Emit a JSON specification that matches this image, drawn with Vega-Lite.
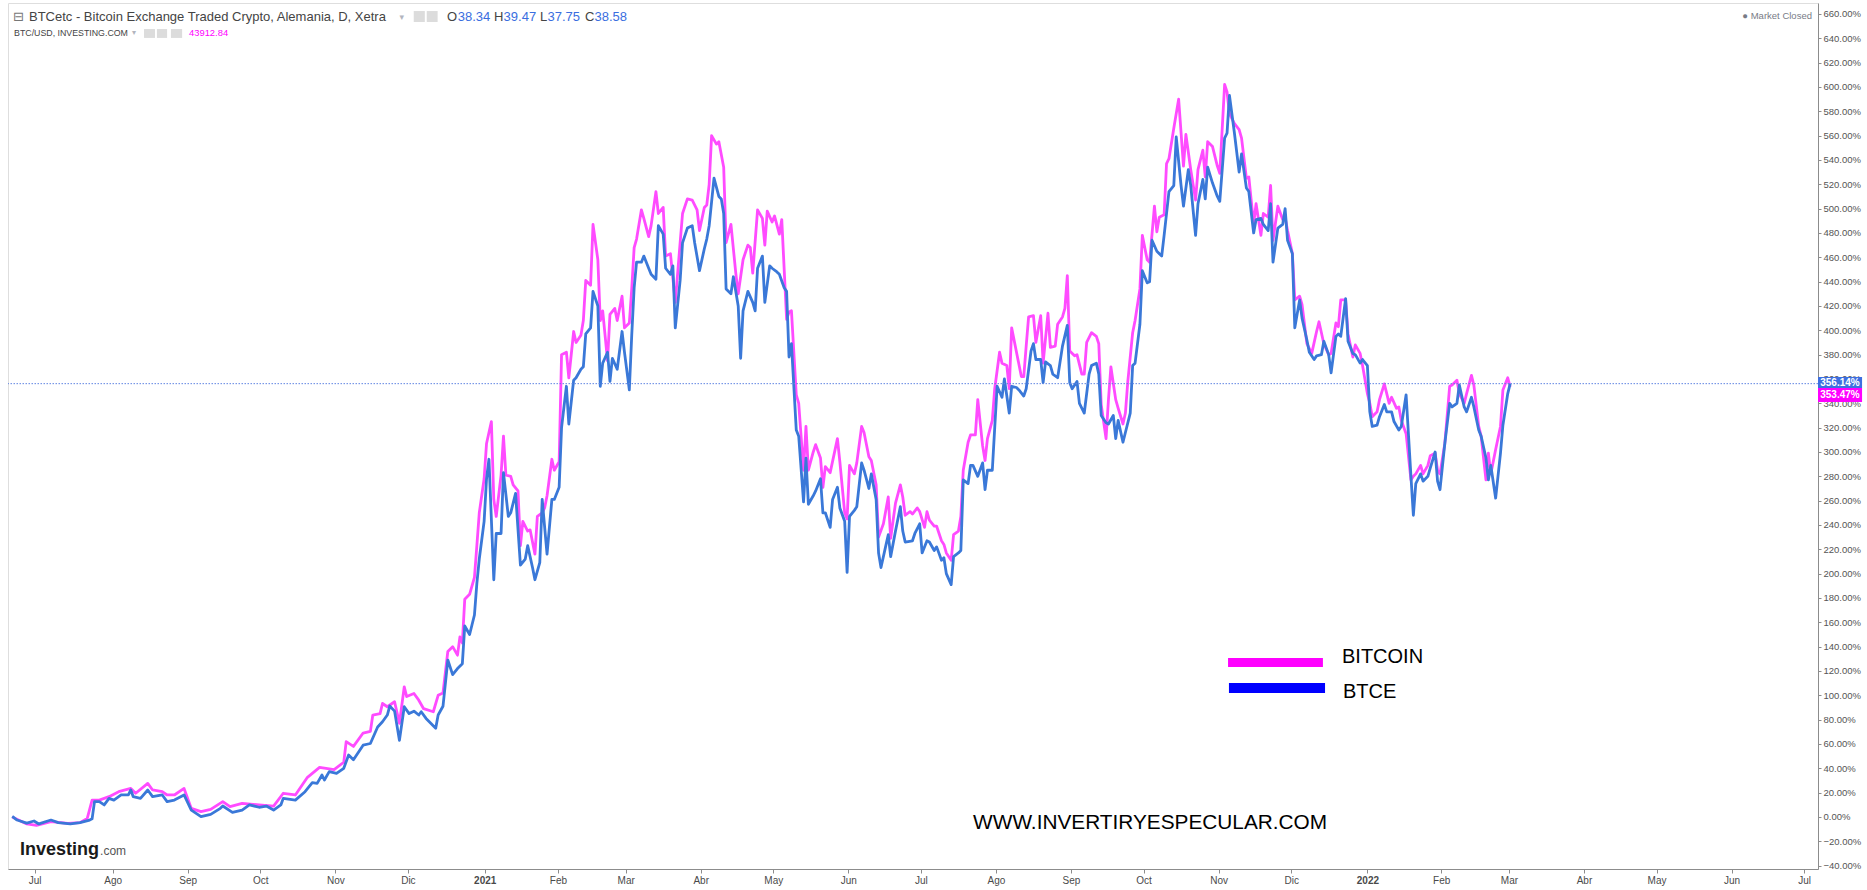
{
  "$schema": "https://vega.github.io/schema/vega-lite/v6.json",
  "width": 1810,
  "height": 866,
  "autosize": {"type": "none"},
  "padding": {"left": 8, "top": 3, "right": 49, "bottom": 21},
  "background": "white",
  "config": {"view": {"stroke": "#dedede"}, "font": "Liberation Sans", "axis": {"labelOverlap": false, "labelFlush": false, "labelBound": false}},
  "datasets": {
    "bitcoin": [
      {"date":"2020-06-22","pct":0},{"date":"2020-06-28","pct":-5.7},{"date":"2020-07-02","pct":-6.8},{"date":"2020-07-08","pct":-3.8},{"date":"2020-07-15","pct":-5.2},{"date":"2020-07-20","pct":-4.6},{"date":"2020-07-23","pct":-1.1},{"date":"2020-07-25","pct":13.9},{"date":"2020-07-28","pct":13.9},{"date":"2020-08-01","pct":16.7},{"date":"2020-08-05","pct":20.8},{"date":"2020-08-10","pct":23.5},{"date":"2020-08-12","pct":19.5},{"date":"2020-08-17","pct":27.6},{"date":"2020-08-19","pct":22.2},{"date":"2020-08-23","pct":20.8},{"date":"2020-08-25","pct":18.1},{"date":"2020-08-28","pct":18.1},{"date":"2020-09-01","pct":23.5},{"date":"2020-09-04","pct":7.1},{"date":"2020-09-08","pct":4.4},{"date":"2020-09-12","pct":6.3},{"date":"2020-09-17","pct":12.6},{"date":"2020-09-20","pct":8.5},{"date":"2020-09-25","pct":11.2},{"date":"2020-10-02","pct":9.9},{"date":"2020-10-08","pct":9.0},{"date":"2020-10-12","pct":19.5},{"date":"2020-10-17","pct":18.1},{"date":"2020-10-22","pct":32.6},{"date":"2020-10-27","pct":40.8},{"date":"2020-11-02","pct":39},{"date":"2020-11-06","pct":45},{"date":"2020-11-07","pct":61.9},{"date":"2020-11-10","pct":58},{"date":"2020-11-14","pct":69},{"date":"2020-11-17","pct":70.4},{"date":"2020-11-18","pct":83.8},{"date":"2020-11-21","pct":85},{"date":"2020-11-22","pct":93.3},{"date":"2020-11-24","pct":90.6},{"date":"2020-11-27","pct":94.7},{"date":"2020-11-29","pct":77},{"date":"2020-12-01","pct":107},{"date":"2020-12-02","pct":99},{"date":"2020-12-05","pct":101.5},{"date":"2020-12-07","pct":96},{"date":"2020-12-09","pct":89},{"date":"2020-12-13","pct":86.5},{"date":"2020-12-15","pct":100},{"date":"2020-12-17","pct":102},{"date":"2020-12-19","pct":136},{"date":"2020-12-21","pct":140},{"date":"2020-12-23","pct":133},{"date":"2020-12-24","pct":148},{"date":"2020-12-25","pct":143},{"date":"2020-12-26","pct":179},{"date":"2020-12-28","pct":183},{"date":"2020-12-30","pct":197},{"date":"2020-12-31","pct":223},
      {"date":"2021-01-01","pct":250},{"date":"2021-01-03","pct":278},{"date":"2021-01-04","pct":307},{"date":"2021-01-06","pct":325},{"date":"2021-01-07","pct":261},{"date":"2021-01-08","pct":247},{"date":"2021-01-10","pct":281},{"date":"2021-01-11","pct":313},{"date":"2021-01-12","pct":281},{"date":"2021-01-14","pct":280},{"date":"2021-01-15","pct":273},{"date":"2021-01-17","pct":268},{"date":"2021-01-18","pct":223},{"date":"2021-01-19","pct":243},{"date":"2021-01-21","pct":235},{"date":"2021-01-22","pct":236},{"date":"2021-01-24","pct":216},{"date":"2021-01-25","pct":247},{"date":"2021-01-27","pct":250},{"date":"2021-01-28","pct":254},{"date":"2021-01-29","pct":264},{"date":"2021-01-31","pct":294},{"date":"2021-02-01","pct":285},{"date":"2021-02-03","pct":292},{"date":"2021-02-04","pct":380},{"date":"2021-02-06","pct":382},{"date":"2021-02-07","pct":361},{"date":"2021-02-09","pct":399},{"date":"2021-02-10","pct":390},{"date":"2021-02-12","pct":396},{"date":"2021-02-13","pct":408},{"date":"2021-02-14","pct":441},{"date":"2021-02-16","pct":437},{"date":"2021-02-17","pct":487},{"date":"2021-02-19","pct":458},{"date":"2021-02-20","pct":408},{"date":"2021-02-21","pct":416},{"date":"2021-02-23","pct":375},{"date":"2021-02-24","pct":413},{"date":"2021-02-26","pct":418},{"date":"2021-02-27","pct":408},{"date":"2021-03-01","pct":428},{"date":"2021-03-02","pct":402},{"date":"2021-03-04","pct":406},{"date":"2021-03-05","pct":434},{"date":"2021-03-06","pct":468},{"date":"2021-03-07","pct":475},{"date":"2021-03-09","pct":499},{"date":"2021-03-10","pct":492},{"date":"2021-03-12","pct":477},{"date":"2021-03-13","pct":486},{"date":"2021-03-15","pct":514},{"date":"2021-03-16","pct":496},{"date":"2021-03-18","pct":501},{"date":"2021-03-19","pct":461},{"date":"2021-03-21","pct":463},{"date":"2021-03-23","pct":423},{"date":"2021-03-25","pct":472},{"date":"2021-03-26","pct":496},{"date":"2021-03-28","pct":508},{"date":"2021-03-30","pct":507},{"date":"2021-04-01","pct":499},{"date":"2021-04-02","pct":482},{"date":"2021-04-04","pct":501},{"date":"2021-04-05","pct":503},{"date":"2021-04-06","pct":520},{"date":"2021-04-07","pct":560},{"date":"2021-04-09","pct":553},{"date":"2021-04-10","pct":555},{"date":"2021-04-12","pct":534},{"date":"2021-04-13","pct":472},{"date":"2021-04-15","pct":487},{"date":"2021-04-17","pct":447},{"date":"2021-04-18","pct":430},{"date":"2021-04-20","pct":458},{"date":"2021-04-22","pct":470},{"date":"2021-04-23","pct":468},{"date":"2021-04-24","pct":447},{"date":"2021-04-26","pct":499},{"date":"2021-04-28","pct":492},{"date":"2021-04-29","pct":470},{"date":"2021-04-30","pct":498},{"date":"2021-05-02","pct":489},{"date":"2021-05-03","pct":494},{"date":"2021-05-05","pct":479},{"date":"2021-05-06","pct":491},{"date":"2021-05-08","pct":409},{"date":"2021-05-09","pct":415},{"date":"2021-05-10","pct":416},{"date":"2021-05-12","pct":347},{"date":"2021-05-13","pct":340},{"date":"2021-05-15","pct":285},{"date":"2021-05-16","pct":321},{"date":"2021-05-17","pct":285},{"date":"2021-05-19","pct":300},{"date":"2021-05-20","pct":306},{"date":"2021-05-22","pct":295},{"date":"2021-05-23","pct":271},{"date":"2021-05-24","pct":288},{"date":"2021-05-26","pct":283},{"date":"2021-05-29","pct":311},{"date":"2021-05-30","pct":292},{"date":"2021-06-01","pct":250},{"date":"2021-06-02","pct":245},{"date":"2021-06-03","pct":289},{"date":"2021-06-05","pct":282},{"date":"2021-06-06","pct":291},{"date":"2021-06-08","pct":321},{"date":"2021-06-09","pct":316},{"date":"2021-06-11","pct":296},{"date":"2021-06-12","pct":293},{"date":"2021-06-14","pct":273},{"date":"2021-06-15","pct":230},{"date":"2021-06-17","pct":241},{"date":"2021-06-19","pct":263},{"date":"2021-06-20","pct":229},{"date":"2021-06-22","pct":258},{"date":"2021-06-24","pct":273},{"date":"2021-06-25","pct":263},{"date":"2021-06-26","pct":248},{"date":"2021-06-28","pct":251},{"date":"2021-06-29","pct":249},{"date":"2021-07-01","pct":254},{"date":"2021-07-02","pct":251},{"date":"2021-07-04","pct":238},{"date":"2021-07-05","pct":251},{"date":"2021-07-06","pct":244},{"date":"2021-07-08","pct":239},{"date":"2021-07-09","pct":239},{"date":"2021-07-11","pct":227},{"date":"2021-07-12","pct":224},{"date":"2021-07-13","pct":217},{"date":"2021-07-15","pct":211},{"date":"2021-07-16","pct":232},{"date":"2021-07-18","pct":235},{"date":"2021-07-19","pct":247},{"date":"2021-07-20","pct":285},{"date":"2021-07-22","pct":308},{"date":"2021-07-23","pct":314},{"date":"2021-07-25","pct":314},{"date":"2021-07-26","pct":343},{"date":"2021-07-28","pct":305},{"date":"2021-07-29","pct":293},{"date":"2021-07-30","pct":311},{"date":"2021-08-01","pct":326},{"date":"2021-08-02","pct":352},{"date":"2021-08-04","pct":382},{"date":"2021-08-05","pct":373},{"date":"2021-08-07","pct":371},{"date":"2021-08-08","pct":352},{"date":"2021-08-09","pct":402},{"date":"2021-08-11","pct":382},{"date":"2021-08-13","pct":362},{"date":"2021-08-14","pct":362},{"date":"2021-08-15","pct":387},{"date":"2021-08-16","pct":411},{"date":"2021-08-18","pct":412},{"date":"2021-08-19","pct":390},{"date":"2021-08-21","pct":412},{"date":"2021-08-22","pct":373},{"date":"2021-08-24","pct":414},{"date":"2021-08-25","pct":386},{"date":"2021-08-27","pct":387},{"date":"2021-08-28","pct":405},{"date":"2021-08-30","pct":411},{"date":"2021-08-31","pct":418},{"date":"2021-09-01","pct":445},{"date":"2021-09-02","pct":383},{"date":"2021-09-04","pct":379},{"date":"2021-09-05","pct":380},{"date":"2021-09-07","pct":364},{"date":"2021-09-08","pct":364},{"date":"2021-09-09","pct":390},{"date":"2021-09-11","pct":398},{"date":"2021-09-13","pct":395},{"date":"2021-09-14","pct":389},{"date":"2021-09-15","pct":339},{"date":"2021-09-17","pct":311},{"date":"2021-09-18","pct":343},{"date":"2021-09-19","pct":370},{"date":"2021-09-21","pct":343},{"date":"2021-09-22","pct":336},{"date":"2021-09-24","pct":323},{"date":"2021-09-25","pct":332},{"date":"2021-09-26","pct":358},{"date":"2021-09-28","pct":398},{"date":"2021-09-29","pct":408},{"date":"2021-10-01","pct":434},{"date":"2021-10-02","pct":478},{"date":"2021-10-04","pct":458},{"date":"2021-10-05","pct":456},{"date":"2021-10-07","pct":502},{"date":"2021-10-08","pct":481},{"date":"2021-10-09","pct":493},{"date":"2021-10-11","pct":495},{"date":"2021-10-12","pct":537},{"date":"2021-10-13","pct":541},{"date":"2021-10-15","pct":566},{"date":"2021-10-17","pct":590},
      {"date":"2021-10-19","pct":535},{"date":"2021-10-20","pct":561},{"date":"2021-10-22","pct":532},{"date":"2021-10-24","pct":507},{"date":"2021-10-25","pct":532},{"date":"2021-10-27","pct":548},{"date":"2021-10-28","pct":526},{"date":"2021-10-29","pct":555},{"date":"2021-10-31","pct":551},{"date":"2021-11-02","pct":535},{"date":"2021-11-03","pct":529},{"date":"2021-11-05","pct":602},{"date":"2021-11-06","pct":596},{"date":"2021-11-07","pct":578},{"date":"2021-11-09","pct":570},{"date":"2021-11-11","pct":565},{"date":"2021-11-12","pct":558},{"date":"2021-11-14","pct":525},{"date":"2021-11-15","pct":526},{"date":"2021-11-17","pct":487},{"date":"2021-11-18","pct":504},{"date":"2021-11-20","pct":478},{"date":"2021-11-21","pct":496},{"date":"2021-11-23","pct":493},{"date":"2021-11-24","pct":519},{"date":"2021-11-25","pct":474},{"date":"2021-11-27","pct":502},{"date":"2021-11-29","pct":491},{"date":"2021-11-30","pct":493},{"date":"2021-12-01","pct":482},{"date":"2021-12-03","pct":463},{"date":"2021-12-04","pct":425},{"date":"2021-12-06","pct":428},{"date":"2021-12-07","pct":421},{"date":"2021-12-09","pct":389},{"date":"2021-12-11","pct":381},{"date":"2021-12-13","pct":399},{"date":"2021-12-14","pct":407},{"date":"2021-12-16","pct":389},{"date":"2021-12-18","pct":380},{"date":"2021-12-19","pct":381},{"date":"2021-12-21","pct":406},{"date":"2021-12-22","pct":403},{"date":"2021-12-23","pct":425},{"date":"2021-12-25","pct":425},{"date":"2021-12-26","pct":397},{"date":"2021-12-28","pct":378},{"date":"2021-12-29","pct":388},{"date":"2021-12-31","pct":381},{"date":"2022-01-01","pct":371},{"date":"2022-01-03","pct":348},{"date":"2022-01-04","pct":340},{"date":"2022-01-05","pct":329},{"date":"2022-01-07","pct":333},{"date":"2022-01-08","pct":343},{"date":"2022-01-10","pct":356},{"date":"2022-01-12","pct":340},{"date":"2022-01-13","pct":345},{"date":"2022-01-15","pct":336},{"date":"2022-01-16","pct":337},{"date":"2022-01-17","pct":326},{"date":"2022-01-19","pct":315},{"date":"2022-01-21","pct":277},{"date":"2022-01-22","pct":280},{"date":"2022-01-23","pct":282},{"date":"2022-01-25","pct":289},{"date":"2022-01-26","pct":282},{"date":"2022-01-28","pct":289},{"date":"2022-01-29","pct":297},{"date":"2022-01-31","pct":299},{"date":"2022-02-01","pct":285},{"date":"2022-02-02","pct":282},{"date":"2022-02-04","pct":307},{"date":"2022-02-06","pct":354},{"date":"2022-02-07","pct":355},{"date":"2022-02-09","pct":359},{"date":"2022-02-10","pct":348},{"date":"2022-02-12","pct":340},{"date":"2022-02-13","pct":348},{"date":"2022-02-15","pct":363},{"date":"2022-02-16","pct":355},{"date":"2022-02-18","pct":321},{"date":"2022-02-19","pct":313},{"date":"2022-02-21","pct":277},{"date":"2022-02-22","pct":299},{"date":"2022-02-23","pct":282},{"date":"2022-02-25","pct":302},{"date":"2022-02-27","pct":321},{"date":"2022-02-28","pct":351},{"date":"2022-03-02","pct":361},{"date":"2022-03-03","pct":353.47}
    ],
    "btce": [
      {"date":"2020-06-22","pct":0.5},{"date":"2020-06-24","pct":-2.5},{"date":"2020-06-28","pct":-5},{"date":"2020-07-01","pct":-3.3},{"date":"2020-07-03","pct":-5.7},{"date":"2020-07-08","pct":-2.5},{"date":"2020-07-11","pct":-4.6},{"date":"2020-07-16","pct":-5.7},{"date":"2020-07-20","pct":-4.6},{"date":"2020-07-24","pct":-2.5},{"date":"2020-07-25","pct":-1.5},{"date":"2020-07-26","pct":12.6},{"date":"2020-07-28","pct":12.6},{"date":"2020-07-30","pct":9.9},{"date":"2020-08-01","pct":15.3},{"date":"2020-08-03","pct":13.9},{"date":"2020-08-06","pct":18.1},{"date":"2020-08-09","pct":18.1},{"date":"2020-08-10","pct":22.2},{"date":"2020-08-11","pct":16.7},{"date":"2020-08-14","pct":15.3},{"date":"2020-08-17","pct":22.2},{"date":"2020-08-19","pct":16.7},{"date":"2020-08-23","pct":18.1},{"date":"2020-08-25","pct":12.6},{"date":"2020-08-28","pct":13.9},{"date":"2020-09-01","pct":18.1},{"date":"2020-09-04","pct":5.7},{"date":"2020-09-08","pct":0.3},{"date":"2020-09-12","pct":2.2},{"date":"2020-09-16","pct":7.1},{"date":"2020-09-17","pct":9.0},{"date":"2020-09-21","pct":3.8},{"date":"2020-09-25","pct":5.7},{"date":"2020-09-28","pct":9.9},{"date":"2020-10-02","pct":8},{"date":"2020-10-05","pct":9},{"date":"2020-10-08","pct":5.7},{"date":"2020-10-11","pct":9.9},{"date":"2020-10-12","pct":15.3},{"date":"2020-10-17","pct":13.9},{"date":"2020-10-21","pct":20.8},{"date":"2020-10-24","pct":28.2},{"date":"2020-10-26","pct":27.6},{"date":"2020-10-28","pct":34.5},{"date":"2020-10-29","pct":30.4},{"date":"2020-10-31","pct":37.3},{"date":"2020-11-03","pct":35.9},{"date":"2020-11-06","pct":40},{"date":"2020-11-08","pct":51},{"date":"2020-11-10","pct":47},{"date":"2020-11-14","pct":59},{"date":"2020-11-17","pct":60.4},{"date":"2020-11-20","pct":74},{"date":"2020-11-22","pct":78.3},{"date":"2020-11-24","pct":83.8},{"date":"2020-11-25","pct":91.2},{"date":"2020-11-27","pct":87},{"date":"2020-11-29","pct":63},{"date":"2020-12-01","pct":90.6},{"date":"2020-12-03","pct":85},{"date":"2020-12-05","pct":87},{"date":"2020-12-07","pct":83.8},{"date":"2020-12-08","pct":86.5},{"date":"2020-12-10","pct":81},{"date":"2020-12-14","pct":73},{"date":"2020-12-15","pct":83.8},{"date":"2020-12-17","pct":91},{"date":"2020-12-19","pct":129},{"date":"2020-12-21","pct":117},{"date":"2020-12-23","pct":122},{"date":"2020-12-25","pct":126},{"date":"2020-12-26","pct":157},{"date":"2020-12-28","pct":150},{"date":"2020-12-30","pct":166},{"date":"2020-12-31","pct":192},
      {"date":"2021-01-01","pct":212},{"date":"2021-01-03","pct":243},{"date":"2021-01-04","pct":278},{"date":"2021-01-05","pct":294},{"date":"2021-01-07","pct":195},{"date":"2021-01-08","pct":233},{"date":"2021-01-10","pct":233},{"date":"2021-01-11","pct":283},{"date":"2021-01-13","pct":247},{"date":"2021-01-14","pct":250},{"date":"2021-01-16","pct":266},{"date":"2021-01-18","pct":207},{"date":"2021-01-20","pct":212},{"date":"2021-01-21","pct":223},{"date":"2021-01-23","pct":205},{"date":"2021-01-24","pct":195},{"date":"2021-01-26","pct":209},{"date":"2021-01-27","pct":261},{"date":"2021-01-29","pct":216},{"date":"2021-01-31","pct":261},{"date":"2021-02-01","pct":261},{"date":"2021-02-03","pct":271},{"date":"2021-02-04","pct":320},{"date":"2021-02-06","pct":354},{"date":"2021-02-07","pct":323},{"date":"2021-02-09","pct":359},{"date":"2021-02-10","pct":361},{"date":"2021-02-12","pct":368},{"date":"2021-02-13","pct":370},{"date":"2021-02-14","pct":397},{"date":"2021-02-16","pct":402},{"date":"2021-02-17","pct":432},{"date":"2021-02-19","pct":420},{"date":"2021-02-20","pct":354},{"date":"2021-02-21","pct":373},{"date":"2021-02-23","pct":382},{"date":"2021-02-24","pct":358},{"date":"2021-02-25","pct":377},{"date":"2021-02-27","pct":368},{"date":"2021-03-01","pct":399},{"date":"2021-03-02","pct":382},{"date":"2021-03-04","pct":351},{"date":"2021-03-05","pct":396},{"date":"2021-03-06","pct":435},{"date":"2021-03-07","pct":456},{"date":"2021-03-09","pct":456},{"date":"2021-03-10","pct":461},{"date":"2021-03-12","pct":451},{"date":"2021-03-13","pct":446},{"date":"2021-03-15","pct":442},{"date":"2021-03-16","pct":486},{"date":"2021-03-18","pct":479},{"date":"2021-03-19","pct":451},{"date":"2021-03-21","pct":446},{"date":"2021-03-22","pct":453},{"date":"2021-03-23","pct":402},{"date":"2021-03-25","pct":441},{"date":"2021-03-26","pct":472},{"date":"2021-03-28","pct":484},{"date":"2021-03-30","pct":486},{"date":"2021-03-31","pct":472},{"date":"2021-04-02","pct":449},{"date":"2021-04-04","pct":467},{"date":"2021-04-05","pct":475},{"date":"2021-04-06","pct":486},{"date":"2021-04-08","pct":525},{"date":"2021-04-10","pct":510},{"date":"2021-04-11","pct":508},{"date":"2021-04-12","pct":496},{"date":"2021-04-13","pct":434},{"date":"2021-04-15","pct":430},{"date":"2021-04-16","pct":444},{"date":"2021-04-18","pct":420},{"date":"2021-04-19","pct":377},{"date":"2021-04-20","pct":416},{"date":"2021-04-22","pct":432},{"date":"2021-04-24","pct":423},{"date":"2021-04-25","pct":416},{"date":"2021-04-26","pct":451},{"date":"2021-04-28","pct":461},{"date":"2021-04-29","pct":423},{"date":"2021-05-01","pct":453},{"date":"2021-05-02","pct":451},{"date":"2021-05-04","pct":448},{"date":"2021-05-05","pct":446},{"date":"2021-05-07","pct":435},{"date":"2021-05-08","pct":432},{"date":"2021-05-09","pct":378},{"date":"2021-05-10","pct":389},{"date":"2021-05-12","pct":318},{"date":"2021-05-13","pct":313},{"date":"2021-05-15","pct":259},{"date":"2021-05-16","pct":295},{"date":"2021-05-17","pct":257},{"date":"2021-05-19","pct":264},{"date":"2021-05-20","pct":268},{"date":"2021-05-22","pct":278},{"date":"2021-05-23","pct":250},{"date":"2021-05-24","pct":250},{"date":"2021-05-26","pct":238},{"date":"2021-05-27","pct":261},{"date":"2021-05-29","pct":271},{"date":"2021-05-30","pct":254},{"date":"2021-06-01","pct":243},{"date":"2021-06-02","pct":201},{"date":"2021-06-03","pct":247},{"date":"2021-06-05","pct":252},{"date":"2021-06-06","pct":255},{"date":"2021-06-08","pct":291},{"date":"2021-06-09","pct":285},{"date":"2021-06-11","pct":270},{"date":"2021-06-12","pct":282},{"date":"2021-06-14","pct":261},{"date":"2021-06-15","pct":217},{"date":"2021-06-16","pct":205},{"date":"2021-06-18","pct":223},{"date":"2021-06-19","pct":232},{"date":"2021-06-20","pct":214},{"date":"2021-06-22","pct":235},{"date":"2021-06-24","pct":255},{"date":"2021-06-25","pct":235},{"date":"2021-06-26","pct":226},{"date":"2021-06-29","pct":227},{"date":"2021-06-30","pct":233},{"date":"2021-07-02","pct":241},{"date":"2021-07-03","pct":217},{"date":"2021-07-05","pct":227},{"date":"2021-07-06","pct":226},{"date":"2021-07-08","pct":219},{"date":"2021-07-09","pct":222},{"date":"2021-07-11","pct":211},{"date":"2021-07-12","pct":213},{"date":"2021-07-13","pct":200},{"date":"2021-07-15","pct":191},{"date":"2021-07-16","pct":214},{"date":"2021-07-18","pct":217},{"date":"2021-07-19","pct":219},{"date":"2021-07-20","pct":277},{"date":"2021-07-22","pct":274},{"date":"2021-07-23","pct":289},{"date":"2021-07-24","pct":289},{"date":"2021-07-26","pct":280},{"date":"2021-07-28","pct":291},{"date":"2021-07-29","pct":269},{"date":"2021-07-30","pct":285},{"date":"2021-08-01","pct":285},{"date":"2021-08-02","pct":320},{"date":"2021-08-03","pct":354},{"date":"2021-08-05","pct":345},{"date":"2021-08-06","pct":360},{"date":"2021-08-08","pct":332},{"date":"2021-08-09","pct":354},{"date":"2021-08-11","pct":353},{"date":"2021-08-12","pct":351},{"date":"2021-08-14","pct":346},{"date":"2021-08-15","pct":352},{"date":"2021-08-17","pct":383},{"date":"2021-08-18","pct":389},{"date":"2021-08-19","pct":376},{"date":"2021-08-21","pct":376},{"date":"2021-08-22","pct":357},{"date":"2021-08-23","pct":374},{"date":"2021-08-25","pct":371},{"date":"2021-08-26","pct":364},{"date":"2021-08-28","pct":361},{"date":"2021-08-30","pct":387},{"date":"2021-09-01","pct":404},{"date":"2021-09-02","pct":357},{"date":"2021-09-03","pct":352},{"date":"2021-09-05","pct":358},{"date":"2021-09-06","pct":340},{"date":"2021-09-08","pct":332},{"date":"2021-09-10","pct":364},{"date":"2021-09-11","pct":371},{"date":"2021-09-13","pct":373},{"date":"2021-09-14","pct":364},{"date":"2021-09-15","pct":330},{"date":"2021-09-17","pct":324},{"date":"2021-09-18","pct":323},{"date":"2021-09-20","pct":330},{"date":"2021-09-21","pct":311},{"date":"2021-09-22","pct":326},{"date":"2021-09-24","pct":308},{"date":"2021-09-25","pct":316},{"date":"2021-09-27","pct":332},{"date":"2021-09-28","pct":371},{"date":"2021-09-29","pct":373},{"date":"2021-10-01","pct":405},{"date":"2021-10-02","pct":449},{"date":"2021-10-04","pct":439},{"date":"2021-10-05","pct":440},{"date":"2021-10-06","pct":474},{"date":"2021-10-08","pct":465},{"date":"2021-10-10","pct":461},{"date":"2021-10-11","pct":478},{"date":"2021-10-13","pct":514},{"date":"2021-10-15","pct":519},{"date":"2021-10-16","pct":559},{"date":"2021-10-18","pct":519},
      {"date":"2021-10-19","pct":502},{"date":"2021-10-21","pct":532},{"date":"2021-10-22","pct":519},{"date":"2021-10-24","pct":478},{"date":"2021-10-25","pct":504},{"date":"2021-10-27","pct":524},{"date":"2021-10-28","pct":508},{"date":"2021-10-29","pct":534},{"date":"2021-10-31","pct":521},{"date":"2021-11-02","pct":510},{"date":"2021-11-03","pct":506},{"date":"2021-11-05","pct":558},{"date":"2021-11-06","pct":562},{"date":"2021-11-07","pct":593},{"date":"2021-11-09","pct":563},{"date":"2021-11-11","pct":530},{"date":"2021-11-12","pct":545},{"date":"2021-11-14","pct":517},{"date":"2021-11-15","pct":514},{"date":"2021-11-17","pct":480},{"date":"2021-11-18","pct":491},{"date":"2021-11-20","pct":492},{"date":"2021-11-21","pct":487},{"date":"2021-11-23","pct":482},{"date":"2021-11-24","pct":504},{"date":"2021-11-25","pct":456},{"date":"2021-11-27","pct":484},{"date":"2021-11-29","pct":487},{"date":"2021-11-30","pct":500},{"date":"2021-12-01","pct":474},{"date":"2021-12-03","pct":463},{"date":"2021-12-04","pct":402},{"date":"2021-12-06","pct":425},{"date":"2021-12-07","pct":410},{"date":"2021-12-09","pct":392},{"date":"2021-12-10","pct":382},{"date":"2021-12-12","pct":376},{"date":"2021-12-13","pct":379},{"date":"2021-12-15","pct":380},{"date":"2021-12-16","pct":391},{"date":"2021-12-18","pct":380},{"date":"2021-12-19","pct":365},{"date":"2021-12-21","pct":395},{"date":"2021-12-22","pct":397},{"date":"2021-12-23","pct":395},{"date":"2021-12-25","pct":426},{"date":"2021-12-26","pct":391},{"date":"2021-12-28","pct":381},{"date":"2021-12-29","pct":380},{"date":"2021-12-31","pct":373},{"date":"2022-01-01","pct":376},{"date":"2022-01-03","pct":371},{"date":"2022-01-04","pct":333},{"date":"2022-01-05","pct":321},{"date":"2022-01-07","pct":322},{"date":"2022-01-08","pct":329},{"date":"2022-01-10","pct":339},{"date":"2022-01-11","pct":333},{"date":"2022-01-13","pct":333},{"date":"2022-01-14","pct":325},{"date":"2022-01-16","pct":318},{"date":"2022-01-17","pct":321},{"date":"2022-01-19","pct":347},{"date":"2022-01-21","pct":280},{"date":"2022-01-22","pct":248},{"date":"2022-01-23","pct":274},{"date":"2022-01-25","pct":282},{"date":"2022-01-26","pct":276},{"date":"2022-01-28","pct":280},{"date":"2022-01-29","pct":287},{"date":"2022-01-31","pct":300},{"date":"2022-02-01","pct":276},{"date":"2022-02-02","pct":269},{"date":"2022-02-04","pct":307},{"date":"2022-02-06","pct":340},{"date":"2022-02-07","pct":337},{"date":"2022-02-09","pct":340},{"date":"2022-02-10","pct":355},{"date":"2022-02-12","pct":337},{"date":"2022-02-13","pct":333},{"date":"2022-02-15","pct":345},{"date":"2022-02-16","pct":337},{"date":"2022-02-18","pct":318},{"date":"2022-02-19","pct":313},{"date":"2022-02-21","pct":295},{"date":"2022-02-22","pct":277},{"date":"2022-02-23","pct":289},{"date":"2022-02-25","pct":262},{"date":"2022-02-27","pct":299},{"date":"2022-02-28","pct":322},{"date":"2022-03-02","pct":348},{"date":"2022-03-03","pct":356.14}
    ],
    "one": [{}]
  },
  "layer": [
    {
      "data": {"name": "bitcoin"},
      "mark": {"type": "line", "color": "#ff4bff", "strokeWidth": 2.8, "strokeJoin": "round"},
      "encoding": {
        "x": {
          "field": "date", "type": "temporal",
          "scale": {"type": "utc", "domain": [{"year": 2020, "month": 6, "date": 20, "hours": 6, "utc": true}, {"year": 2022, "month": 7, "date": 8, "hours": 5, "utc": true}]},
          "axis": {
            "title": null, "grid": false, "tickCount": 40,
            "values": [
              {"year": 2020, "month": 7, "date": 1, "hours": 6, "utc": true}, {"year": 2020, "month": 8, "date": 2, "hours": 12, "utc": true}, {"year": 2020, "month": 9, "date": 2, "hours": 12, "utc": true}, {"year": 2020, "month": 10, "date": 2, "hours": 12, "utc": true}, {"year": 2020, "month": 11, "date": 2, "hours": 12, "utc": true}, {"year": 2020, "month": 12, "date": 2, "hours": 12, "utc": true},
              {"year": 2021, "month": 1, "date": 3, "hours": 6, "utc": true}, {"year": 2021, "month": 2, "date": 2, "hours": 12, "utc": true}, {"year": 2021, "month": 3, "date": 2, "hours": 12, "utc": true}, {"year": 2021, "month": 4, "date": 2, "hours": 12, "utc": true}, {"year": 2021, "month": 5, "date": 2, "hours": 12, "utc": true}, {"year": 2021, "month": 6, "date": 2, "hours": 12, "utc": true}, {"year": 2021, "month": 7, "date": 2, "hours": 12, "utc": true}, {"year": 2021, "month": 8, "date": 2, "hours": 12, "utc": true}, {"year": 2021, "month": 9, "date": 2, "hours": 12, "utc": true}, {"year": 2021, "month": 10, "date": 2, "hours": 12, "utc": true}, {"year": 2021, "month": 11, "date": 2, "hours": 12, "utc": true}, {"year": 2021, "month": 12, "date": 2, "hours": 12, "utc": true},
              {"year": 2022, "month": 1, "date": 3, "hours": 0, "utc": true}, {"year": 2022, "month": 2, "date": 2, "hours": 12, "utc": true}, {"year": 2022, "month": 3, "date": 2, "hours": 12, "utc": true}, {"year": 2022, "month": 4, "date": 2, "hours": 12, "utc": true}, {"year": 2022, "month": 5, "date": 2, "hours": 12, "utc": true}, {"year": 2022, "month": 6, "date": 2, "hours": 12, "utc": true}, {"year": 2022, "month": 7, "date": 2, "hours": 12, "utc": true}
            ],
            "labelExpr": "utcmonth(datum.value) == 0 ? utcFormat(datum.value, '%Y') : ['Ene','Feb','Mar','Abr','May','Jun','Jul','Ago','Sep','Oct','Nov','Dic'][utcmonth(datum.value)]",
            "labelFontWeight": {"condition": {"test": "utcmonth(datum.value) == 0", "value": "bold"}, "value": "normal"},
            "labelFont": "Liberation Sans", "labelFontSize": 10, "labelColor": "#4a4a4a", "labelPadding": 2,
            "labelOverlap": false, "labelFlush": false,
            "domainColor": "#8c8c8c", "tickColor": "#8c8c8c", "tickSize": 4
          }
        },
        "y": {
          "field": "pct", "type": "quantitative",
          "scale": {"domain": [-42.74, 669.0], "nice": false, "zero": false},
          "axis": {
            "orient": "right", "title": null, "grid": false, "tickCount": 40,
            "values": [-40, -20, 0, 20, 40, 60, 80, 100, 120, 140, 160, 180, 200, 220, 240, 260, 280, 300, 320, 340, 360, 380, 400, 420, 440, 460, 480, 500, 520, 540, 560, 580, 600, 620, 640, 660],
            "labelExpr": "format(datum.value, '.2f') + '%'",
            "labelFont": "Liberation Sans", "labelFontSize": 9.5, "labelColor": "#555555", "labelPadding": 2,
            "labelOverlap": false, "labelFlush": false, "labelSeparation": 0,
            "domainColor": "#8c8c8c", "tickColor": "#8c8c8c", "tickSize": 3
          }
        }
      }
    },
    {
      "data": {"name": "btce"},
      "mark": {"type": "line", "color": "#3a78d8", "strokeWidth": 2.8, "strokeJoin": "round"},
      "encoding": {
        "x": {"field": "date", "type": "temporal"},
        "y": {"field": "pct", "type": "quantitative"}
      }
    },
    {
      "data": {"name": "one"},
      "mark": {"type": "rule", "color": "#5f84e2", "strokeWidth": 1, "strokeDash": [1.5, 1.5]},
      "encoding": {"y": {"datum": 356.14, "type": "quantitative"}}
    },
    {
      "data": {"name": "one"},
      "mark": {"type": "rect", "color": "#3d6fe0"},
      "encoding": {
        "x": {"datum": {"year": 2022, "month": 7, "date": 8, "hours": 5, "utc": true}, "type": "temporal"},
        "x2": {"datum": {"year": 2022, "month": 7, "date": 26, "hours": 10, "utc": true}},
        "y": {"datum": 361.6, "type": "quantitative"},
        "y2": {"datum": 352.6}
      }
    },
    {
      "data": {"name": "one"},
      "mark": {"type": "rect", "color": "#ff00ff"},
      "encoding": {
        "x": {"datum": {"year": 2022, "month": 7, "date": 8, "hours": 5, "utc": true}, "type": "temporal"},
        "x2": {"datum": {"year": 2022, "month": 7, "date": 26, "hours": 10, "utc": true}},
        "y": {"datum": 352.6, "type": "quantitative"},
        "y2": {"datum": 341.1}
      }
    },
    {
      "data": {"name": "one"},
      "mark": {"type": "text", "text": "356.14%", "color": "white", "fontSize": 10, "fontWeight": "bold", "align": "center", "baseline": "middle"},
      "encoding": {
        "x": {"datum": {"year": 2022, "month": 7, "date": 17, "hours": 7, "utc": true}, "type": "temporal"},
        "y": {"datum": 357.1, "type": "quantitative"}
      }
    },
    {
      "data": {"name": "one"},
      "mark": {"type": "text", "text": "353.47%", "color": "white", "fontSize": 10, "fontWeight": "bold", "align": "center", "baseline": "middle"},
      "encoding": {
        "x": {"datum": {"year": 2022, "month": 7, "date": 17, "hours": 7, "utc": true}, "type": "temporal"},
        "y": {"datum": 346.8, "type": "quantitative"}
      }
    },
    {
      "data": {"name": "one"},
      "mark": {"type": "rule", "color": "#ff00ff", "strokeWidth": 9, "strokeCap": "butt"},
      "encoding": {
        "x": {"datum": {"year": 2021, "month": 11, "date": 6, "hours": 10, "utc": true}, "type": "temporal"},
        "x2": {"datum": {"year": 2021, "month": 12, "date": 15, "hours": 15, "utc": true}},
        "y": {"datum": 127, "type": "quantitative"}
      }
    },
    {
      "data": {"name": "one"},
      "mark": {"type": "rule", "color": "#0000ff", "strokeWidth": 10, "strokeCap": "butt"},
      "encoding": {
        "x": {"datum": {"year": 2021, "month": 11, "date": 6, "hours": 19, "utc": true}, "type": "temporal"},
        "x2": {"datum": {"year": 2021, "month": 12, "date": 16, "hours": 12, "utc": true}},
        "y": {"datum": 106, "type": "quantitative"}
      }
    },
    {
      "data": {"name": "one"},
      "mark": {"type": "text", "text": "BITCOIN", "font": "Liberation Sans", "fontSize": 20, "color": "black", "align": "left", "baseline": "middle"},
      "encoding": {
        "x": {"datum": {"year": 2021, "month": 12, "date": 23, "hours": 12, "utc": true}, "type": "temporal"},
        "y": {"datum": 131.5, "type": "quantitative"}
      }
    },
    {
      "data": {"name": "one"},
      "mark": {"type": "text", "text": "BTCE", "font": "Liberation Sans", "fontSize": 20, "color": "black", "align": "left", "baseline": "middle"},
      "encoding": {
        "x": {"datum": {"year": 2021, "month": 12, "date": 23, "hours": 22, "utc": true}, "type": "temporal"},
        "y": {"datum": 102.7, "type": "quantitative"}
      }
    },
    {
      "data": {"name": "one"},
      "mark": {"type": "text", "text": "WWW.INVERTIRYESPECULAR.COM", "font": "Liberation Sans", "fontSize": 20.8, "color": "black", "align": "center", "baseline": "middle"},
      "encoding": {
        "x": {"datum": {"year": 2021, "month": 10, "date": 5, "hours": 5, "utc": true}, "type": "temporal"},
        "y": {"datum": -4.9, "type": "quantitative"}
      }
    },
    {
      "data": {"name": "one"},
      "mark": {"type": "text", "text": "Investing", "font": "Liberation Sans", "fontSize": 18, "fontWeight": "bold", "color": "#1a1a1a", "align": "left", "baseline": "alphabetic"},
      "encoding": {
        "x": {"datum": {"year": 2020, "month": 6, "date": 25, "hours": 5, "utc": true}, "type": "temporal"},
        "y": {"datum": -31.2, "type": "quantitative"}
      }
    },
    {
      "data": {"name": "one"},
      "mark": {"type": "text", "text": ".com", "font": "Liberation Sans", "fontSize": 12, "color": "#555555", "align": "left", "baseline": "alphabetic"},
      "encoding": {
        "x": {"datum": {"year": 2020, "month": 7, "date": 28, "hours": 7, "utc": true}, "type": "temporal"},
        "y": {"datum": -31.2, "type": "quantitative"}
      }
    },
    {
      "data": {"name": "one"},
      "mark": {"type": "text", "text": "⊟", "font": "DejaVu Sans", "fontSize": 13, "color": "#777777", "align": "left", "baseline": "middle"},
      "encoding": {
        "x": {"datum": {"year": 2020, "month": 6, "date": 22, "hours": 8, "utc": true}, "type": "temporal"},
        "y": {"datum": 657.9, "type": "quantitative"}
      }
    },
    {
      "data": {"name": "one"},
      "mark": {"type": "text", "text": "BTCetc - Bitcoin Exchange Traded Crypto, Alemania, D, Xetra", "font": "Liberation Sans", "fontSize": 13, "color": "#444444", "align": "left", "baseline": "middle"},
      "encoding": {
        "x": {"datum": {"year": 2020, "month": 6, "date": 28, "hours": 22, "utc": true}, "type": "temporal"},
        "y": {"datum": 657.9, "type": "quantitative"}
      }
    },
    {
      "data": {"name": "one"},
      "mark": {"type": "text", "text": "▾", "font": "DejaVu Sans", "fontSize": 9, "color": "#b2b5be", "align": "left", "baseline": "middle"},
      "encoding": {"x": {"datum": {"year": 2020, "month": 11, "date": 29, "hours": 2, "utc": true}, "type": "temporal"}, "y": {"datum": 657.9, "type": "quantitative"}}
    },
    {
      "data": {"name": "one"},
      "mark": {"type": "rect", "color": "#dcdcdc"},
      "encoding": {
        "x": {"datum": {"year": 2020, "month": 12, "date": 4, "hours": 22, "utc": true}, "type": "temporal"},
        "x2": {"datum": {"year": 2020, "month": 12, "date": 9, "hours": 12, "utc": true}},
        "y": {"datum": 662.4, "type": "quantitative"},
        "y2": {"datum": 653.4}
      }
    },
    {
      "data": {"name": "one"},
      "mark": {"type": "rect", "color": "#dcdcdc"},
      "encoding": {
        "x": {"datum": {"year": 2020, "month": 12, "date": 10, "hours": 7, "utc": true}, "type": "temporal"},
        "x2": {"datum": {"year": 2020, "month": 12, "date": 14, "hours": 19, "utc": true}},
        "y": {"datum": 662.4, "type": "quantitative"},
        "y2": {"datum": 653.4}
      }
    },
    {
      "data": {"name": "one"},
      "mark": {"type": "text", "text": "O", "font": "Liberation Sans", "fontSize": 13, "color": "#444444", "align": "left", "baseline": "middle"},
      "encoding": {"x": {"datum": {"year": 2020, "month": 12, "date": 18, "hours": 17, "utc": true}, "type": "temporal"}, "y": {"datum": 657.9, "type": "quantitative"}}
    },
    {
      "data": {"name": "one"},
      "mark": {"type": "text", "text": "38.34", "font": "Liberation Sans", "fontSize": 13, "color": "#3a6ee0", "align": "left", "baseline": "middle"},
      "encoding": {"x": {"datum": {"year": 2020, "month": 12, "date": 23, "hours": 2, "utc": true}, "type": "temporal"}, "y": {"datum": 657.9, "type": "quantitative"}}
    },
    {
      "data": {"name": "one"},
      "mark": {"type": "text", "text": "H", "font": "Liberation Sans", "fontSize": 13, "color": "#444444", "align": "left", "baseline": "middle"},
      "encoding": {"x": {"datum": {"year": 2021, "month": 1, "date": 7, "hours": 2, "utc": true}, "type": "temporal"}, "y": {"datum": 657.9, "type": "quantitative"}}
    },
    {
      "data": {"name": "one"},
      "mark": {"type": "text", "text": "39.47", "font": "Liberation Sans", "fontSize": 13, "color": "#3a6ee0", "align": "left", "baseline": "middle"},
      "encoding": {"x": {"datum": {"year": 2021, "month": 1, "date": 11, "hours": 1, "utc": true}, "type": "temporal"}, "y": {"datum": 657.9, "type": "quantitative"}}
    },
    {
      "data": {"name": "one"},
      "mark": {"type": "text", "text": "L", "font": "Liberation Sans", "fontSize": 13, "color": "#444444", "align": "left", "baseline": "middle"},
      "encoding": {"x": {"datum": {"year": 2021, "month": 1, "date": 26, "hours": 2, "utc": true}, "type": "temporal"}, "y": {"datum": 657.9, "type": "quantitative"}}
    },
    {
      "data": {"name": "one"},
      "mark": {"type": "text", "text": "37.75", "font": "Liberation Sans", "fontSize": 13, "color": "#3a6ee0", "align": "left", "baseline": "middle"},
      "encoding": {"x": {"datum": {"year": 2021, "month": 1, "date": 29, "hours": 5, "utc": true}, "type": "temporal"}, "y": {"datum": 657.9, "type": "quantitative"}}
    },
    {
      "data": {"name": "one"},
      "mark": {"type": "text", "text": "C", "font": "Liberation Sans", "fontSize": 13, "color": "#444444", "align": "left", "baseline": "middle"},
      "encoding": {"x": {"datum": {"year": 2021, "month": 2, "date": 13, "hours": 17, "utc": true}, "type": "temporal"}, "y": {"datum": 657.9, "type": "quantitative"}}
    },
    {
      "data": {"name": "one"},
      "mark": {"type": "text", "text": "38.58", "font": "Liberation Sans", "fontSize": 13, "color": "#3a6ee0", "align": "left", "baseline": "middle"},
      "encoding": {"x": {"datum": {"year": 2021, "month": 2, "date": 17, "hours": 14, "utc": true}, "type": "temporal"}, "y": {"datum": 657.9, "type": "quantitative"}}
    },
    {
      "data": {"name": "one"},
      "mark": {"type": "text", "text": "BTC/USD, INVESTING.COM", "font": "Liberation Sans", "fontSize": 8.8, "color": "#444444", "align": "left", "baseline": "middle"},
      "encoding": {"x": {"datum": {"year": 2020, "month": 6, "date": 22, "hours": 18, "utc": true}, "type": "temporal"}, "y": {"datum": 644.4, "type": "quantitative"}}
    },
    {
      "data": {"name": "one"},
      "mark": {"type": "text", "text": "▾", "font": "DejaVu Sans", "fontSize": 8, "color": "#b2b5be", "align": "left", "baseline": "middle"},
      "encoding": {"x": {"datum": {"year": 2020, "month": 8, "date": 10, "hours": 12, "utc": true}, "type": "temporal"}, "y": {"datum": 644.4, "type": "quantitative"}}
    },
    {
      "data": {"name": "one"},
      "mark": {"type": "rect", "color": "#dcdcdc"},
      "encoding": {
        "x": {"datum": {"year": 2020, "month": 8, "date": 15, "hours": 11, "utc": true}, "type": "temporal"},
        "x2": {"datum": {"year": 2020, "month": 8, "date": 20, "hours": 0, "utc": true}},
        "y": {"datum": 647.6, "type": "quantitative"},
        "y2": {"datum": 640.3}
      }
    },
    {
      "data": {"name": "one"},
      "mark": {"type": "rect", "color": "#dcdcdc"},
      "encoding": {
        "x": {"datum": {"year": 2020, "month": 8, "date": 20, "hours": 19, "utc": true}, "type": "temporal"},
        "x2": {"datum": {"year": 2020, "month": 8, "date": 25, "hours": 0, "utc": true}},
        "y": {"datum": 647.6, "type": "quantitative"},
        "y2": {"datum": 640.3}
      }
    },
    {
      "data": {"name": "one"},
      "mark": {"type": "rect", "color": "#dcdcdc"},
      "encoding": {
        "x": {"datum": {"year": 2020, "month": 8, "date": 26, "hours": 14, "utc": true}, "type": "temporal"},
        "x2": {"datum": {"year": 2020, "month": 8, "date": 31, "hours": 5, "utc": true}},
        "y": {"datum": 647.6, "type": "quantitative"},
        "y2": {"datum": 640.3}
      }
    },
    {
      "data": {"name": "one"},
      "mark": {"type": "text", "text": "43912.84", "font": "Liberation Sans", "fontSize": 9.4, "color": "#ff00ff", "align": "left", "baseline": "middle"},
      "encoding": {"x": {"datum": {"year": 2020, "month": 9, "date": 3, "hours": 1, "utc": true}, "type": "temporal"}, "y": {"datum": 644.4, "type": "quantitative"}}
    },
    {
      "data": {"name": "one"},
      "mark": {"type": "text", "text": "● Market Closed", "font": "Liberation Sans", "fontSize": 9.5, "color": "#787b86", "align": "right", "baseline": "middle"},
      "encoding": {"x": {"datum": {"year": 2022, "month": 7, "date": 5, "hours": 17, "utc": true}, "type": "temporal"}, "y": {"datum": 658.7, "type": "quantitative"}}
    }
  ]
}
